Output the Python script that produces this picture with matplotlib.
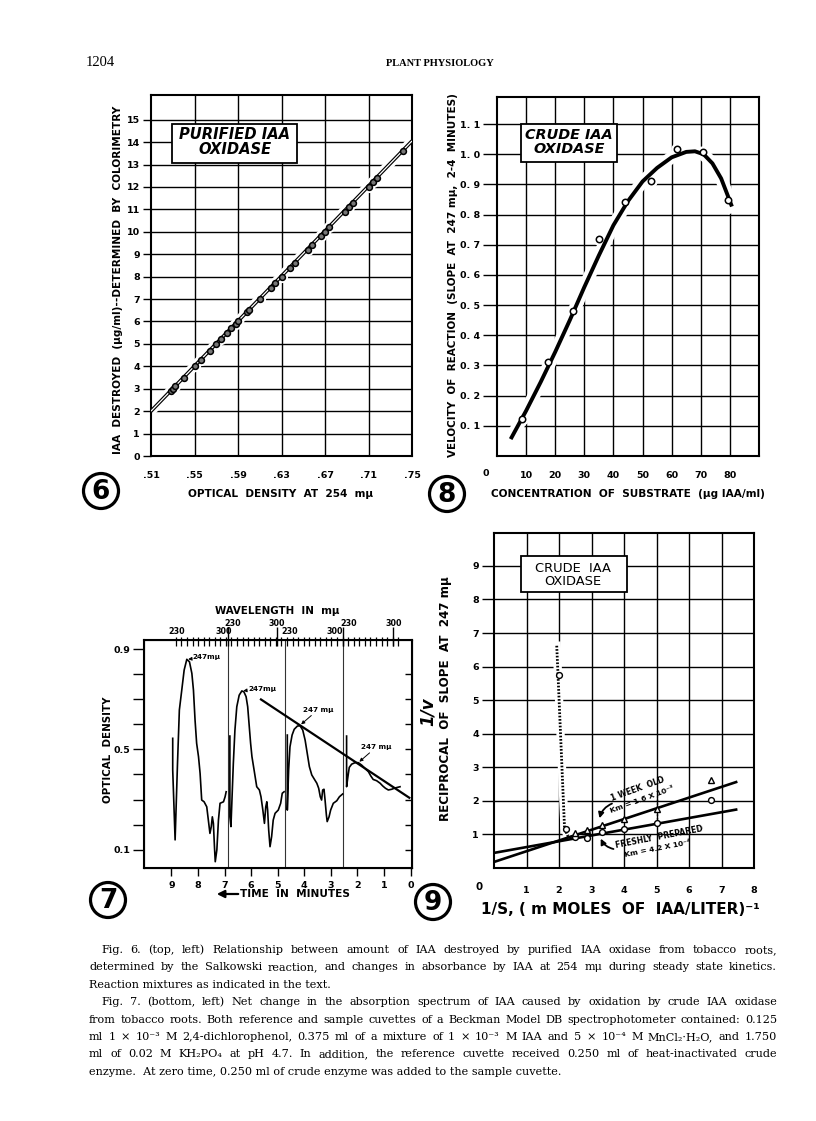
import numpy as np
import matplotlib
matplotlib.use("Agg")
import matplotlib.pyplot as plt
from matplotlib.patches import Circle, Rectangle, FancyArrowPatch

W, H = 816, 1121
SANS = "DejaVu Sans"
SERIF = ["Liberation Serif", "DejaVu Serif"]
CAPFONT = ["DejaVu Serif"]

# ---- Fig. 6: purified IAA oxidase
od_254 = [.528, .530, .532, .540, .550, .556, .564, .570, .574, .580, .584, .588, .590,
          .598, .600, .610, .620, .624, .630, .638, .642, .654, .658, .666, .670, .674,
          .688, .692, .696, .710, .714, .718, .742]
iaa_destroyed = [2.9, 3.0, 3.1, 3.5, 4.0, 4.3, 4.7, 5.0, 5.2, 5.5, 5.7, 5.9, 6.0,
                 6.4, 6.5, 7.0, 7.5, 7.7, 8.0, 8.4, 8.6, 9.2, 9.4, 9.8, 10.0, 10.2,
                 10.9, 11.1, 11.3, 12.0, 12.2, 12.4, 13.6]
fit6_x = [0.51, 0.75]
fit6_y = [2.0, 14.05]

# ---- Fig. 8: crude IAA oxidase, velocity vs substrate
conc = [8.5, 17.5, 26.2, 35.1, 43.9, 52.8, 61.7, 70.7, 79.2]
velocity = [0.124, 0.311, 0.48, 0.72, 0.842, 0.911, 1.017, 1.009, 0.847]
curve8_x = [4.7, 10, 15, 20, 25, 30, 35, 40, 45, 50, 55, 60, 65, 68, 71, 74, 77, 79, 80.7]
curve8_y = [0.056, 0.15, 0.245, 0.345, 0.45, 0.56, 0.665, 0.765, 0.845, 0.91, 0.955,
            0.99, 1.008, 1.01, 1.0, 0.97, 0.92, 0.87, 0.827]

# ---- Fig. 7: repeated spectra vs time
scan1_t = [8.95, 8.95, 8.86, 8.77, 8.70, 8.61, 8.52, 8.42, 8.32, 8.23, 8.17, 8.11, 8.05,
           7.98, 7.92, 7.86, 7.77, 7.67, 7.61, 7.55, 7.50, 7.46, 7.42, 7.38, 7.35, 7.29,
           7.23, 7.17, 7.04, 6.98, 6.94]
scan1_od = [0.544, 0.418, 0.139, 0.444, 0.657, 0.736, 0.816, 0.859, 0.849, 0.803, 0.736,
            0.617, 0.524, 0.471, 0.404, 0.298, 0.291, 0.271, 0.218, 0.165, 0.192, 0.231,
            0.205, 0.112, 0.052, 0.099, 0.218, 0.285, 0.291, 0.311, 0.331]
scan2_t = [6.80, 6.80, 6.76, 6.67, 6.61, 6.54, 6.45, 6.35, 6.27, 6.19, 6.13, 6.07, 6.02,
           5.97, 5.89, 5.79, 5.69, 5.63, 5.56, 5.50, 5.45, 5.41, 5.38, 5.34, 5.29, 5.23,
           5.17, 5.10, 4.98, 4.89, 4.83, 4.76]
scan2_od = [0.553, 0.231, 0.192, 0.444, 0.577, 0.670, 0.716, 0.733, 0.729, 0.710, 0.670,
            0.590, 0.524, 0.471, 0.418, 0.351, 0.338, 0.311, 0.258, 0.205, 0.271, 0.291,
            0.258, 0.178, 0.112, 0.152, 0.218, 0.245, 0.258, 0.285, 0.325, 0.331]
scan3_t = [4.64, 4.64, 4.59, 4.54, 4.46, 4.38, 4.26, 4.16, 4.06, 3.97, 3.89, 3.81, 3.72,
           3.64, 3.53, 3.46, 3.40, 3.35, 3.31, 3.26, 3.22, 3.17, 3.14, 3.07, 3.01, 2.91,
           2.78, 2.68, 2.56]
scan3_od = [0.557, 0.258, 0.418, 0.510, 0.557, 0.580, 0.593, 0.594, 0.577, 0.537, 0.484,
            0.431, 0.398, 0.384, 0.365, 0.345, 0.311, 0.298, 0.338, 0.341, 0.298, 0.238,
            0.212, 0.231, 0.258, 0.285, 0.295, 0.311, 0.322]
scan4_t = [2.41, 2.41, 2.36, 2.31, 2.22, 2.09, 1.97, 1.84, 1.72, 1.59, 1.50, 1.41, 1.28,
           1.15, 1.05, 0.95, 0.84, 0.71, 0.59, 0.40]
scan4_od = [0.553, 0.351, 0.391, 0.428, 0.441, 0.447, 0.447, 0.437, 0.424, 0.411, 0.394,
            0.380, 0.375, 0.365, 0.354, 0.345, 0.338, 0.341, 0.346, 0.351]
peak_t = [8.42, 6.35, 4.16, 1.97]
peak_od = [0.859, 0.733, 0.596, 0.447]
rate_t = [5.63, 0.05]
rate_od = [0.699, 0.307]
scan_breaks = [6.88, 4.73, 2.53]
wl_labels = ["230", "300", "230", "300", "230", "300", "230", "300"]
wl_label_t = [8.80, 7.04, 6.70, 5.03, 4.56, 2.87, 2.34, 0.64]

# ---- Fig. 9: Lineweaver-Burk
inv_s_fresh = [2.0, 2.22, 2.5, 2.86, 3.33, 4.0, 5.0, 6.67]
inv_v_fresh = [5.75, 1.17, 0.92, 0.88, 1.07, 1.15, 1.35, 2.02]
inv_s_week = [2.5, 2.86, 3.33, 4.0, 5.0, 6.67]
inv_v_week = [1.03, 1.13, 1.28, 1.47, 1.76, 2.61]
fit_fresh_x = [0.0, 7.45]
fit_fresh_y = [0.45, 1.74]
fit_week_x = [0.0, 7.45]
fit_week_y = [0.18, 2.56]
dotted_x = [1.93, 1.97, 2.17, 2.26, 2.4]
dotted_y = [6.62, 5.75, 1.2, 0.97, 0.9]

fig = plt.figure(figsize=(W / 100, H / 100), dpi=100)


def ax_px(l, t, r, b):
    return fig.add_axes([l / W, 1 - b / H, (r - l) / W, (b - t) / H])


def ftext(x, y, s, **kw):
    kw.setdefault("ha", "center")
    kw.setdefault("va", "center")
    return fig.text(x / W, 1 - y / H, s, **kw)


def fbox(l, t, r, b):
    fig.add_artist(Rectangle((l / W, 1 - b / H), (r - l) / W, (b - t) / H,
                             transform=fig.transFigure, fill=True, fc="white",
                             ec="black", lw=1.3, zorder=5))


def circled(x, y, s):
    fig.add_artist(Circle((x / 100, (H - y) / 100), 0.175, transform=fig.dpi_scale_trans,
                          fill=False, ec="black", lw=2.3))
    ftext(x, y + 1, s, fontsize=19, fontweight="bold", family=SANS)


def style(ax):
    for sp in ax.spines.values():
        sp.set_linewidth(1.5)
    ax.tick_params(labelsize=6.8, width=1.0, colors="black")
    for lab in ax.get_xticklabels() + ax.get_yticklabels():
        lab.set_fontweight("bold")


# header
ftext(100, 62, "1204", fontsize=10.5, family=SERIF)
ftext(440, 63, "PLANT PHYSIOLOGY", fontsize=7.5, family=SERIF, fontweight="bold")

# ================= Fig 6 =================
ax6 = ax_px(151, 95, 412, 456)
ax6.set_xlim(0.51, 0.75)
ax6.set_ylim(0, 16.1)
xt6 = [0.51, 0.55, 0.59, 0.63, 0.67, 0.71, 0.75]
ax6.set_xticks(xt6, [".51", ".55", ".59", ".63", ".67", ".71", ".75"])
ax6.set_yticks(range(16))
ax6.tick_params(axis="x", length=0, pad=11)
ax6.tick_params(axis="y", length=6, pad=2)
for v in xt6[1:-1]:
    ax6.axvline(v, color="black", lw=1.0, zorder=1)
for v in range(1, 16):
    ax6.axhline(v, color="black", lw=1.0, zorder=1)
ax6.plot(fit6_x, fit6_y, color="white", lw=7, zorder=2, solid_capstyle="butt")
ax6.plot(od_254, iaa_destroyed, "o", ms=7, color="white", zorder=2)
ax6.plot(fit6_x, fit6_y, color="black", lw=2.6, zorder=3, solid_capstyle="butt")
ax6.plot(fit6_x, fit6_y, color="white", lw=0.9, zorder=4, solid_capstyle="butt")
ax6.plot(od_254, iaa_destroyed, "o", ms=4.2, mfc="#777777", mec="black", mew=1.1, zorder=5)
style(ax6)
fbox(172, 124, 297, 163)
ftext(235, 142, "PURIFIED IAA\nOXIDASE", fontsize=10.6, fontweight="bold",
      style="italic", family=SANS, linespacing=0.98, zorder=6)
ftext(118, 280, "IAA  DESTROYED  (μg/ml)--DETERMINED  BY  COLORIMETRY", rotation=90,
      fontsize=7.6, fontweight="bold", family=SANS)
ftext(281, 494, "OPTICAL  DENSITY  AT  254  mμ", fontsize=7.6, fontweight="bold", family=SANS)
circled(101, 491, "6")

# ================= Fig 8 =================
ax8 = ax_px(497, 97, 759, 456)
ax8.set_xlim(0, 90)
ax8.set_ylim(0, 1.19)
ax8.set_xticks(range(10, 90, 10))
yt8 = [0.1, 0.2, 0.3, 0.4, 0.5, 0.6, 0.7, 0.8, 0.9, 1.0, 1.1]
ax8.set_yticks(yt8, ["0. 1", "0. 2", "0. 3", "0. 4", "0. 5", "0. 6", "0. 7", "0. 8",
                     "0. 9", "1. 0", "1. 1"])
ax8.tick_params(axis="x", length=0, pad=11)
ax8.tick_params(axis="y", length=10, pad=2)
for v in range(10, 90, 10):
    ax8.axvline(v, color="black", lw=1.0, zorder=1)
for v in yt8:
    ax8.axhline(v, color="black", lw=1.0, zorder=1)
ax8.plot(curve8_x, curve8_y, color="white", lw=9, zorder=2)
ax8.plot(conc, velocity, "o", ms=8, color="white", zorder=2)
ax8.plot(curve8_x, curve8_y, color="black", lw=2.8, zorder=3, solid_capstyle="butt")
ax8.plot(conc, velocity, "o", ms=4.6, mfc="white", mec="black", mew=1.1, zorder=4)
style(ax8)
ftext(486, 473, "0", fontsize=6.8, fontweight="bold", family=SANS)
fbox(521, 124, 617, 162)
ftext(569, 142, "CRUDE IAA\nOXIDASE", fontsize=10.4, fontweight="bold", style="italic",
      family=SANS, linespacing=0.98, zorder=6)
ftext(453, 275, "VELOCITY  OF  REACTION  (SLOPE  AT  247 mμ,  2-4  MINUTES)", rotation=90,
      fontsize=7.5, fontweight="bold", family=SANS)
ftext(628, 494, "CONCENTRATION  OF  SUBSTRATE  (μg IAA/ml)", fontsize=7.6,
      fontweight="bold", family=SANS)
circled(447, 494, "8")

# ================= Fig 7 =================
ax7 = ax_px(144, 640, 412, 868)
ax7.set_xlim(10.03, -0.05)
ax7.set_ylim(0.027, 0.936)
ax7.set_xticks(range(0, 10))
yt7 = [0.1, 0.2, 0.3, 0.4, 0.5, 0.6, 0.7, 0.8, 0.9]
ax7.set_yticks(yt7, ["0.1", "", "", "", "0.5", "", "", "", "0.9"])
ax7.tick_params(axis="x", length=6, pad=3)
ax7.tick_params(axis="y", length=8, pad=2)
ax7r = ax7.twinx()
ax7r.set_ylim(ax7.get_ylim())
ax7r.set_yticks(yt7[:-1], [""] * 8)
ax7r.tick_params(axis="y", direction="in", length=5, width=1.0)
for v in scan_breaks:
    ax7.axvline(v, color="#333333", lw=0.8, zorder=1)
for st, so in [(scan1_t, scan1_od), (scan2_t, scan2_od), (scan3_t, scan3_od),
               (scan4_t, scan4_od)]:
    ax7.plot(st, so, color="black", lw=1.2, zorder=3)
ax7.plot(rate_t, rate_od, color="black", lw=1.6, zorder=3)
# wavelength scale along the top
xa = ax7.get_xaxis_transform()
small_ticks = np.arange(8.83, 0.4, -0.209)
ax7.vlines(small_ticks, 0.974, 1.013, transform=xa, color="black", lw=0.9, clip_on=False)
ax7.vlines([6.88, 5.04, 2.53, 0.66], 0.974, 1.057, transform=xa, color="black", lw=1.0,
           clip_on=False)
for k, (s, tt) in enumerate(zip(wl_labels, wl_label_t)):
    hi = k in (2, 3, 6, 7)
    ax7.text(tt, 1.073 if hi else 1.036, s, transform=xa, ha="center", va="center",
             fontsize=5.8, fontweight="bold", family=SANS)
ftext(277, 611, "WAVELENGTH  IN  mμ", fontsize=7.4, fontweight="bold", family=SANS)
for k, (tt, oo) in enumerate(zip(peak_t, peak_od)):
    if k < 2:
        ax7.annotate("247mμ", xy=(tt, oo), xytext=(tt - 0.23, oo + 0.008),
                     fontsize=5.2, fontweight="bold", va="center", ha="left",
                     arrowprops=dict(arrowstyle="-|>", lw=0.7, color="black",
                                     mutation_scale=5, shrinkA=0, shrinkB=1))
    else:
        ax7.annotate("247 mμ", xy=(tt, oo), xytext=(tt - 0.1, oo + 0.05),
                     fontsize=5.2, fontweight="bold", va="bottom", ha="left",
                     arrowprops=dict(arrowstyle="-|>", lw=0.7, color="black",
                                     mutation_scale=5, shrinkA=0, shrinkB=1))
style(ax7)
ftext(108, 750, "OPTICAL  DENSITY", rotation=90, fontsize=7.4, fontweight="bold",
      family=SANS)
fig.add_artist(FancyArrowPatch((241 / W, 1 - 894 / H), (214 / W, 1 - 894 / H),
                               transform=fig.transFigure, arrowstyle="-|>",
                               mutation_scale=11, color="black", lw=1.6))
ftext(295, 894, "TIME  IN  MINUTES", fontsize=7.6, fontweight="bold", family=SANS)
circled(108, 900, "7")

# ================= Fig 9 =================
ax9 = ax_px(494, 533, 754, 868)
ax9.set_xlim(0, 7.95)
ax9.set_ylim(0, 9.98)
ax9.set_xticks(range(1, 9))
ax9.set_yticks(range(1, 10))
ax9.tick_params(axis="x", length=0, pad=13, labelsize=7.4)
ax9.tick_params(axis="y", length=9, pad=2, labelsize=7.4)
for v in range(1, 8):
    ax9.axvline(v, color="black", lw=1.0, zorder=1)
for v in range(1, 10):
    ax9.axhline(v, color="black", lw=1.0, zorder=1)
ax9.plot(dotted_x, dotted_y, color="white", lw=6, zorder=2)
ax9.plot(dotted_x, dotted_y, color="black", lw=2.0, ls=(0, (0.6, 0.6)), zorder=3)
ax9.plot(fit_fresh_x, fit_fresh_y, color="black", lw=1.9, zorder=3)
ax9.plot(fit_week_x, fit_week_y, color="black", lw=1.9, zorder=3)
ax9.plot([5.0, 5.0], [1.45, 2.15], color="black", lw=1.0, ls=":", zorder=3)
ax9.plot(inv_s_fresh, inv_v_fresh, "o", ms=4.2, mfc="white", mec="black", mew=1.0, zorder=4)
ax9.plot(inv_s_week, inv_v_week, "^", ms=4.0, mfc="white", mec="black", mew=1.0, zorder=4)
style(ax9)
ftext(479, 887, "0", fontsize=7.4, fontweight="bold", family=SANS)
ax9.annotate("", xy=(3.23, 1.40), xytext=(3.71, 1.95),
             arrowprops=dict(arrowstyle="-|>", lw=1.3, color="black", mutation_scale=8,
                             connectionstyle="arc3,rad=0.3"))
ax9.annotate("", xy=(3.25, 0.95), xytext=(3.76, 0.55),
             arrowprops=dict(arrowstyle="-|>", lw=1.3, color="black", mutation_scale=8,
                             connectionstyle="arc3,rad=-0.3"))
ax9.text(4.41, 2.36, "1 WEEK  OLD", rotation=20, fontsize=5.6, fontweight="bold",
         ha="center", va="center", family=SANS)
ax9.text(4.55, 2.04, "Km = 1.6 X 10⁻³", rotation=20, fontsize=5.4, fontweight="bold",
         ha="center", va="center", family=SANS)
ax9.text(5.08, 0.93, "FRESHLY  PREPARED", rotation=11, fontsize=5.6, fontweight="bold",
         ha="center", va="center", family=SANS)
ax9.text(5.02, 0.58, "Km = 4.2 X 10⁻⁴", rotation=11, fontsize=5.4, fontweight="bold",
         ha="center", va="center", family=SANS)
fbox(521, 556, 627, 592)
ftext(573, 575, "CRUDE  IAA\nOXIDASE", fontsize=9.4, family=SANS, linespacing=1.05,
      zorder=6)
ftext(428, 712, "1/v", rotation=90, fontsize=12, fontweight="bold", style="italic",
      family=SANS)
ftext(446, 699, "RECIPROCAL  OF  SLOPE  AT  247 mμ", rotation=90, fontsize=8.6,
      fontweight="bold", family=SANS)
ftext(620, 910, "1/S, ( m MOLES  OF  IAA/LITER)⁻¹", fontsize=11, fontweight="bold",
      family=SANS)
circled(433, 902, "9")

# ================= caption =================
cap = [
    ("Fig. 6. (top, left) Relationship between amount of IAA destroyed by purified IAA oxidase from tobacco roots,", True, False),
    ("determined by the Salkowski reaction, and changes in absorbance by IAA at 254 mμ during steady state kinetics.", False, False),
    ("Reaction mixtures as indicated in the text.", False, True),
    ("Fig. 7. (bottom, left) Net change in the absorption spectrum of IAA caused by oxidation by crude IAA oxidase", True, False),
    ("from tobacco roots.  Both reference and sample cuvettes of a Beckman Model DB spectrophotometer contained: 0.125", False, False),
    ("ml 1 × 10⁻³ M 2,4-dichlorophenol, 0.375 ml of a mixture of 1 × 10⁻³ M IAA and 5 × 10⁻⁴ M MnCl₂·H₂O, and 1.750", False, False),
    ("ml of 0.02 M KH₂PO₄ at pH 4.7.  In addition, the reference cuvette received 0.250 ml of heat-inactivated crude", False, False),
    ("enzyme.  At zero time, 0.250 ml of crude enzyme was added to the sample cuvette.", False, True),
]
renderer = fig.canvas.get_renderer()
x_left, x_indent, x_right = 89, 101, 777
y0, dy = 950, 17.4
cap_fs = 8.1
for i, (line, indent, last) in enumerate(cap):
    y = y0 + i * dy
    xs = x_indent if indent else x_left
    if last:
        ftext(xs, y, line, ha="left", fontsize=cap_fs, family=CAPFONT)
        continue
    words = line.split()
    ts = [ftext(0, y, w, ha="left", fontsize=cap_fs, family=CAPFONT) for w in words]
    widths = [t.get_window_extent(renderer).width for t in ts]
    gap = (x_right - xs - sum(widths)) / (len(words) - 1)
    x = xs
    for t, w in zip(ts, widths):
        t.set_position((x / W, 1 - y / H))
        x += w + gap

fig.savefig("out.png", dpi=100)
